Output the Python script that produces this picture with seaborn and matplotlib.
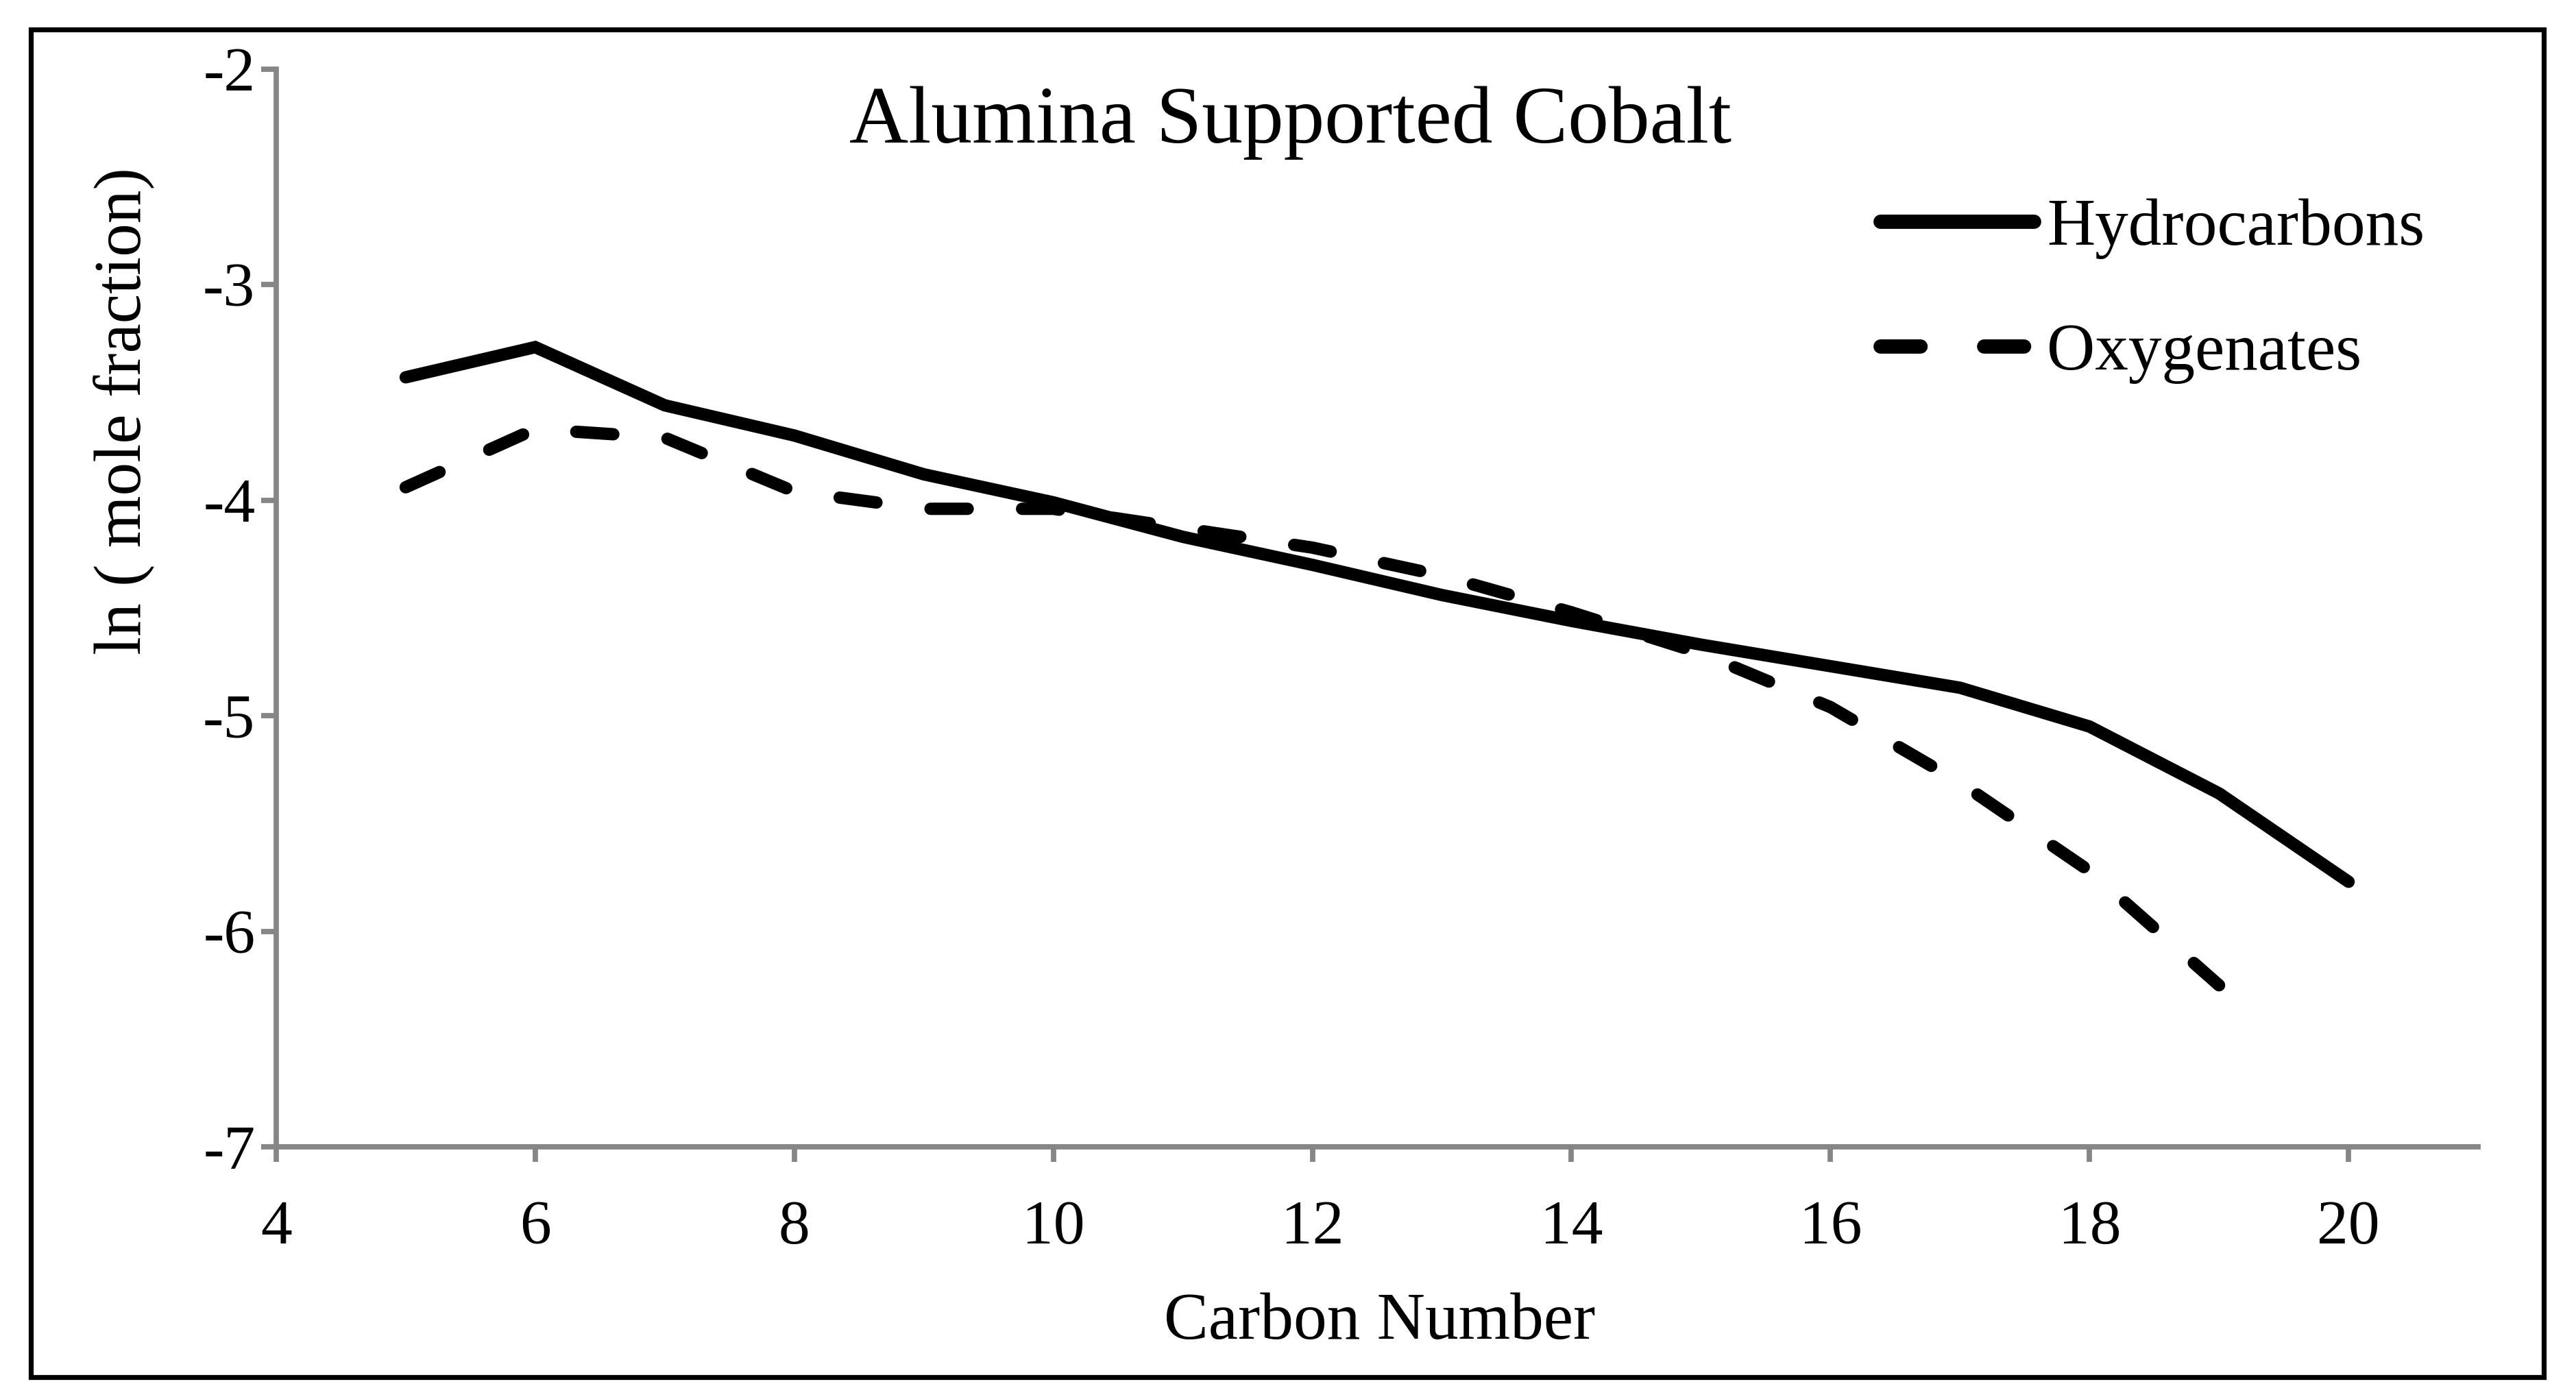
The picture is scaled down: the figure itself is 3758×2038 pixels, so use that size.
import matplotlib
matplotlib.use("Agg")
import matplotlib.pyplot as plt
import seaborn as sns
import pandas as pd
from matplotlib.lines import Line2D

carbon_number = [5, 6, 7, 8, 9, 10, 11, 12, 13, 14, 15, 16, 17, 18, 19, 20]
hydrocarbons = [-3.43, -3.29, -3.56, -3.70, -3.88, -4.01, -4.17, -4.30, -4.44, -4.56, -4.67, -4.77, -4.87, -5.05, -5.36, -5.77]
oxy_carbon = [5, 6, 7, 8, 9, 10, 11, 12, 13, 14, 15, 16, 17, 18, 19]
oxygenates = [-3.94, -3.67, -3.71, -3.96, -4.04, -4.04, -4.13, -4.22, -4.35, -4.52, -4.71, -4.96, -5.31, -5.72, -6.25]
series_names = ["Hydrocarbons", "Oxygenates"]
x_ticks = [4, 6, 8, 10, 12, 14, 16, 18, 20]
y_ticks = [-7, -6, -5, -4, -3, -2]

df = pd.concat([
    pd.DataFrame({"Carbon": carbon_number, "value": hydrocarbons, "series": series_names[0]}),
    pd.DataFrame({"Carbon": oxy_carbon, "value": oxygenates, "series": series_names[1]}),
])

sns.set_theme(style="white")
plt.rcParams["font.family"] = ["Liberation Serif", "DejaVu Serif"]
plt.rcParams["text.color"] = "black"
plt.rcParams["lines.solid_capstyle"] = "round"
plt.rcParams["lines.dash_capstyle"] = "round"
plt.rcParams["lines.solid_joinstyle"] = "miter"

DASH = (3.0, 4.4)

DPI = 200
fig = plt.figure(figsize=(3758 / DPI, 2038 / DPI), dpi=DPI)
fig.patch.set_facecolor("white")
ax = fig.add_axes([0.1072, 0.179, 0.962 - 0.1072, 0.9506 - 0.179])

sns.lineplot(data=df, x="Carbon", y="value", style="series", hue="series",
             palette={series_names[0]: "black", series_names[1]: "black"},
             dashes={series_names[0]: "", series_names[1]: DASH},
             linewidth=6.5, ax=ax, legend=False, sort=False)

ax.set_xlim(4, 21)
ax.set_ylim(-7, -2)
ax.set_xticks(x_ticks)
ax.set_yticks(y_ticks)
ax.set_xticklabels([str(v) for v in x_ticks])
ax.set_yticklabels([str(v) for v in y_ticks])
ax.set_xlabel("")
ax.set_ylabel("")

grey = "#868686"
for side in ["top", "right"]:
    ax.spines[side].set_visible(False)
for side in ["left", "bottom"]:
    ax.spines[side].set_color(grey)
    ax.spines[side].set_linewidth(2.8)
ax.tick_params(axis="both", which="major", color=grey, width=2.8, length=8,
               direction="out", labelsize=33, labelcolor="black")
ax.tick_params(axis="x", pad=20)
ax.tick_params(axis="y", pad=3)
ax.xaxis.set_ticks_position("bottom")
ax.yaxis.set_ticks_position("left")

handles = [Line2D([], [], color="black", lw=7.5, solid_capstyle="round"),
           Line2D([], [], color="black", lw=7.5, linestyle=(0, (2.8, 4.45)), dash_capstyle="round")]
leg = fig.legend(handles, series_names, loc="upper left", bbox_to_anchor=(0.730, 0.858),
                 frameon=False, fontsize=35, handlelength=2.3, handletextpad=0.2,
                 labelspacing=0.95, borderpad=0, borderaxespad=0)
for t in leg.get_texts():
    t.set_color("black")

fig.text(0.5008, 0.912, "Alumina Supported Cobalt", ha="center", va="center", fontsize=43, color="black")
fig.text(0.5357, 0.053, "Carbon Number", ha="center", va="center", fontsize=35, color="black")
fig.text(0.048, 0.706, "ln ( mole fraction)", ha="center", va="center", rotation=90, fontsize=35, color="black")

border = plt.Rectangle((45 / 3758, 1 - 2009 / 2038), (3711 - 45) / 3758, (2009 - 43) / 2038,
                       transform=fig.transFigure, fill=False, edgecolor="black", linewidth=2.6)
fig.patches.append(border)

fig.savefig("out.png", dpi=DPI, facecolor="white")
